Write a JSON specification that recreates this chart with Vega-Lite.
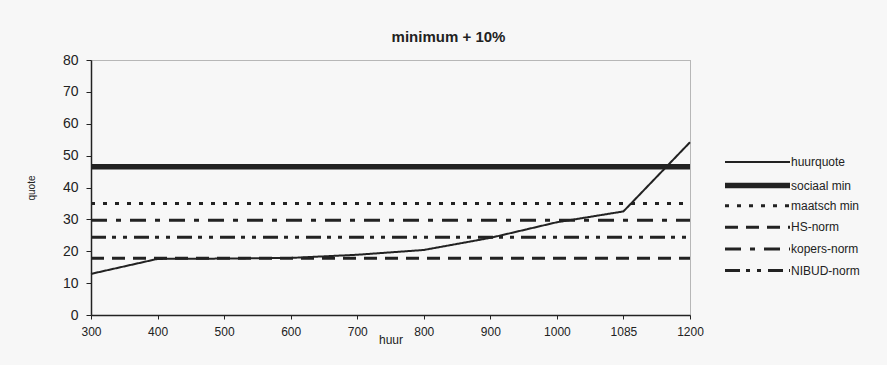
{
  "$schema": "https://vega.github.io/schema/vega-lite/v6.json",
  "width": 599,
  "height": 255,
  "autosize": {"type": "none"},
  "padding": {"left": 91, "top": 60, "right": 197, "bottom": 50},
  "background": "#f7f7f7",
  "title": {
    "text": "minimum + 10%",
    "font": "Liberation Sans",
    "fontSize": 15,
    "fontWeight": "bold",
    "color": "#222",
    "anchor": "middle",
    "dx": 58,
    "offset": 8
  },
  "config": {
    "font": "Liberation Sans",
    "view": {"stroke": "#777", "strokeDash": [1, 1], "strokeWidth": 1},
    "axis": {
      "labelFont": "Liberation Sans",
      "labelColor": "#222",
      "titleColor": "#222",
      "domainColor": "#222",
      "tickColor": "#222",
      "grid": false
    },
    "legend": {
      "labelFont": "Liberation Sans",
      "labelFontSize": 12,
      "labelColor": "#222",
      "symbolStrokeColor": "#222"
    }
  },
  "data": {
    "values": [
      {"series": "huurquote", "huur": 300, "quote": 12.9},
      {"series": "huurquote", "huur": 400, "quote": 17.6},
      {"series": "huurquote", "huur": 500, "quote": 17.7},
      {"series": "huurquote", "huur": 600, "quote": 17.9},
      {"series": "huurquote", "huur": 700, "quote": 18.9},
      {"series": "huurquote", "huur": 800, "quote": 20.4},
      {"series": "huurquote", "huur": 900, "quote": 24.2},
      {"series": "huurquote", "huur": 1000, "quote": 29.1},
      {"series": "huurquote", "huur": 1085, "quote": 32.5},
      {"series": "huurquote", "huur": 1200, "quote": 54.2},
      {"series": "sociaal min", "huur": 300, "quote": 46.5},
      {"series": "sociaal min", "huur": 1200, "quote": 46.5},
      {"series": "maatsch min", "huur": 300, "quote": 35},
      {"series": "maatsch min", "huur": 1200, "quote": 35},
      {"series": "HS-norm", "huur": 300, "quote": 17.8},
      {"series": "HS-norm", "huur": 1200, "quote": 17.8},
      {"series": "kopers-norm", "huur": 300, "quote": 29.7},
      {"series": "kopers-norm", "huur": 1200, "quote": 29.7},
      {"series": "NIBUD-norm", "huur": 300, "quote": 24.4},
      {"series": "NIBUD-norm", "huur": 1200, "quote": 24.4}
    ]
  },
  "mark": {"type": "line", "color": "#222", "strokeCap": "butt"},
  "encoding": {
    "x": {
      "field": "huur",
      "type": "ordinal",
      "scale": {"type": "point", "padding": 0},
      "axis": {
        "title": "huur",
        "labelAngle": 0,
        "labelFontSize": 12,
        "titleFontSize": 12,
        "titleFontWeight": "normal",
        "tickSize": 4,
        "labelPadding": 7,
        "titlePadding": -3,
        "domainWidth": 1.5
      }
    },
    "y": {
      "field": "quote",
      "type": "quantitative",
      "scale": {"domain": [0, 80], "nice": false},
      "axis": {
        "title": "quote",
        "values": [0, 10, 20, 30, 40, 50, 60, 70, 80],
        "labelFontSize": 14,
        "titleFontSize": 10,
        "titleFontWeight": "normal",
        "tickSize": 5,
        "labelPadding": 8,
        "titlePadding": 26,
        "domainWidth": 1.5
      }
    },
    "strokeDash": {
      "field": "series",
      "type": "nominal",
      "scale": {
        "domain": ["huurquote", "sociaal min", "maatsch min", "HS-norm", "kopers-norm", "NIBUD-norm"],
        "range": [[1, 0], [1, 0], [4, 8], [13, 8], [16, 9, 5, 9], [15, 6, 4, 7, 4, 7]]
      },
      "legend": {
        "title": null,
        "orient": "none",
        "legendX": 631,
        "legendY": 96,
        "symbolType": "M-1,0H12",
        "symbolSize": 100,
        "labelOffset": 53,
        "rowPadding": -0.4,
        "gridAlign": "all",
        "padding": 0
      }
    },
    "strokeWidth": {
      "field": "series",
      "type": "nominal",
      "scale": {
        "type": "ordinal",
        "domain": ["huurquote", "sociaal min", "maatsch min", "HS-norm", "kopers-norm", "NIBUD-norm"],
        "range": [2, 5.5, 3, 3, 3, 3]
      },
      "legend": {
        "title": null,
        "orient": "none",
        "legendX": 631,
        "legendY": 96,
        "symbolType": "M-1,0H12",
        "symbolSize": 100,
        "labelOffset": 53,
        "rowPadding": -0.4,
        "gridAlign": "all",
        "padding": 0
      }
    }
  }
}
